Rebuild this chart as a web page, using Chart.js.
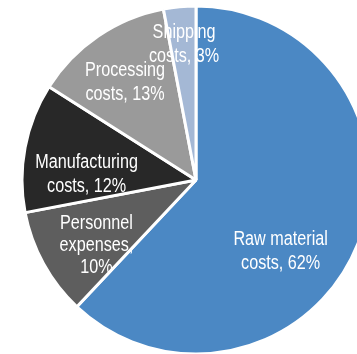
<!DOCTYPE html>
<html>
<head>
<meta charset="utf-8">
<style>
  html, body { margin: 0; padding: 0; background: #ffffff; overflow: hidden; }
  canvas { display: block; }
</style>
<script src="https://cdn.jsdelivr.net/npm/chart.js@4"></script>
</head>
<body>
<canvas id="chart" width="357" height="354"></canvas>
<script>
const categories = ["Raw material costs", "Personnel expenses", "Manufacturing costs", "Processing costs", "Shipping costs"];
const shares = [62, 10, 12, 13, 3];
// label text lines per slice (the share is appended to the last line)
const labelLines = [
  ["Raw material", "costs, "],
  ["Personnel", "expenses,", ""],
  ["Manufacturing", "costs, "],
  ["Processing", "costs, "],
  ["Shipping", "costs, "]
];

const colors = ["#4b88c4", "#5e5e5e", "#282828", "#9a9a9a", "#a4b8d5"];
// where each label sits inside its slice: [fraction along the arc, fraction of radius]
const labelAnchor = [[0.58, 0.63], [0.39, 0.68], [0.34, 0.63], [0.47, 0.70], [0.54, 0.79]];
const lineGap = [24, 22, 24, 24, 24];

const sliceLabels = {
  id: "sliceLabels",
  afterDatasetsDraw(chart) {
    const ctx = chart.ctx;
    const arcs = chart.getDatasetMeta(0).data;
    ctx.save();
    ctx.fillStyle = "#ffffff";
    ctx.font = "19.5px 'Liberation Sans', Arial, sans-serif";
    ctx.textAlign = "center";
    ctx.textBaseline = "alphabetic";
    arcs.forEach((arc, i) => {
      const [t, rf] = labelAnchor[i];
      const a = arc.startAngle + t * (arc.endAngle - arc.startAngle);
      const cx = arc.x + Math.cos(a) * arc.outerRadius * rf;
      const cy = arc.y + Math.sin(a) * arc.outerRadius * rf;
      const lines = labelLines[i].slice();
      lines[lines.length - 1] += shares[i] + "%";
      const top = cy - (lines.length - 1) * lineGap[i] / 2;
      lines.forEach((line, j) => {
        ctx.save();
        ctx.translate(cx, top + j * lineGap[i] + 7);
        ctx.scale(0.83, 1);
        ctx.fillText(line, 0, 0);
        ctx.restore();
      });
    });
    ctx.restore();
  }
};

new Chart(document.getElementById("chart"), {
  type: "pie",
  data: {
    labels: categories,
    datasets: [{
      data: shares,
      backgroundColor: colors,
      borderColor: "#ffffff",
      borderWidth: 3,
      radius: 174,
      clip: false
    }]
  },
  options: {
    responsive: false,
    animation: false,
    layout: { padding: { left: 35, top: 6, right: 0, bottom: 0 } },
    plugins: {
      legend: { display: false },
      tooltip: { enabled: false }
    }
  },
  plugins: [sliceLabels]
});
</script>
</body>
</html>
